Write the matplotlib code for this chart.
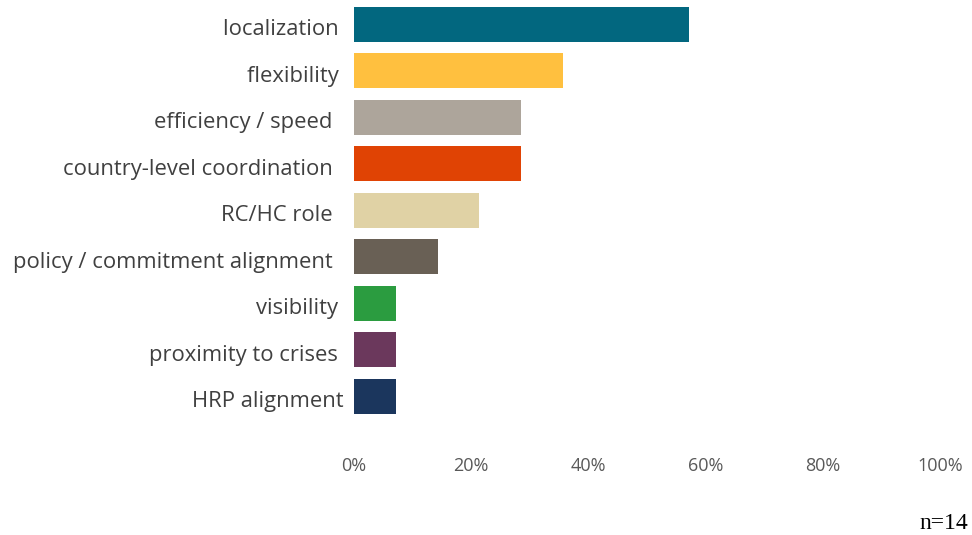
import matplotlib.pyplot as plt
import matplotlib.transforms as mtransforms
from matplotlib.ticker import PercentFormatter

categories = ["localization ", "flexibility ", "efficiency / speed  ", "country-level coordination  ",
              "RC/HC role  ", "policy / commitment alignment  ", "visibility ", "proximity to crises ",
              "HRP alignment"]
counts = [8, 5, 4, 4, 3, 2, 1, 1, 1]
n_total = 14
colors = ["#02677f", "#ffc03f", "#ada59b", "#e04304", "#e0d2a5", "#696055", "#2b9c40", "#6b385c", "#1b365d"]

shares = [c / n_total for c in counts]

fig = plt.figure(figsize=(9.72, 5.35), dpi=100)
ax = fig.add_axes([0.364, 0.216, 0.603, 0.782])

ypos = list(range(len(categories)))
ax.barh(ypos, shares, height=0.75, color=colors)
ax.set_ylim(len(categories) - 0.5, -0.5)
ax.set_xlim(0, 1)
ax.set_xticks([0, 0.2, 0.4, 0.6, 0.8, 1.0])
ax.xaxis.set_major_formatter(PercentFormatter(1.0, decimals=0))
ax.set_yticks(ypos)
ax.set_yticklabels(categories, family="Open Sans", fontsize=15.8, color="#404040")
ax.tick_params(axis="y", length=0, pad=7)
ax.tick_params(axis="x", length=0, pad=27, labelsize=13, labelcolor="#595959")

# nudge category labels slightly down
shift = mtransforms.ScaledTranslation(0, -3 / 100, fig.dpi_scale_trans)
for lbl in ax.get_yticklabels():
    lbl.set_transform(lbl.get_transform() + shift)
for lbl in ax.get_xticklabels():
    lbl.set_family("Open Sans")
for side in ax.spines.values():
    side.set_visible(False)

fig.text(0.996, 0.012, "n=14", family="Liberation Serif", fontsize=17, ha="right", va="baseline", color="#000000")

fig.savefig("out.png", dpi=100)
